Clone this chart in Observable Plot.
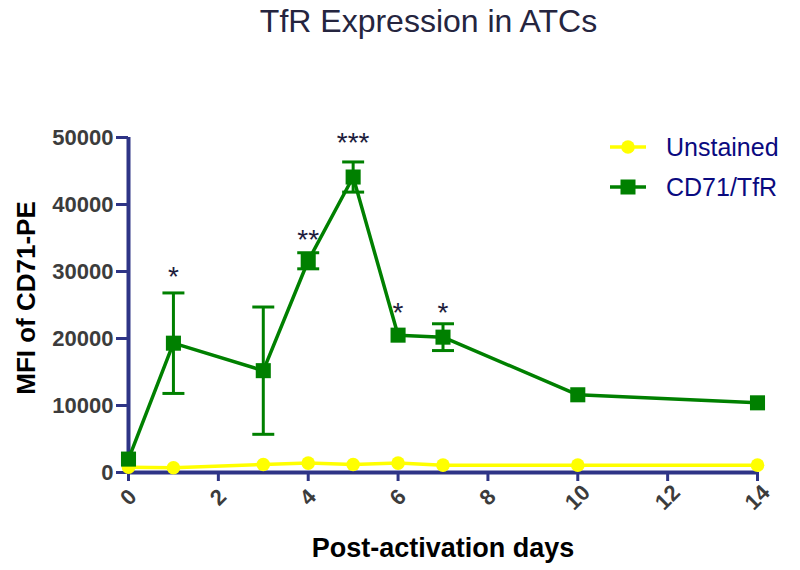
<!DOCTYPE html>
<html>
<head>
<meta charset="utf-8">
<script src="https://cdn.jsdelivr.net/npm/d3@7"></script>
<script src="https://cdn.jsdelivr.net/npm/@observablehq/plot@0.6"></script>
<style>
  body { margin: 0; background: #fff; }
  #wrap { position: relative; width: 800px; height: 570px; font-family: "Liberation Sans", Arial, sans-serif; }
  #title { position: absolute; left: 0; width: 857px; top: 3px; text-align: center; font-size: 32px; color: #25253f; }
  #legend { position: absolute; left: 606px; top: 127px; color: #0a0a80; font-size: 25px; }
  .row { display: flex; align-items: center; height: 40px; }
  .row svg { margin-right: 20px; }
</style>
</head>
<body>
<div id="wrap">
  <div id="title">TfR Expression in ATCs</div>
  <div id="legend"></div>
</div>
<script>
// ---- data ----
const days = [0, 1, 3, 4, 5, 6, 7, 10, 14];
const unstained = [800, 700, 1200, 1400, 1200, 1400, 1100, 1100, 1100];
const cd71 = [2000, 19300, 15200, 31600, 44100, 20500, 20200, 11600, 10400];
const cd71SD = [0, 7500, 9500, 1200, 2250, 0, 2000, 0, 0];
const starDays = [1, 4, 5, 6, 7];
const starLabels = ["*", "**", "***", "*", "*"];
const starY = [27900, 33400, 47800, 22400, 22400];
const xTicks = [0, 2, 4, 6, 8, 10, 12, 14];
const yTicks = [0, 10000, 20000, 30000, 40000, 50000];
const seriesNames = ["Unstained", "CD71/TfR"];

const navy = "#2e3486";
const green = "#008000";
const yellow = "#ffff00";
const tickGrey = "#3c3c3c";

const rowsU = days.map((d, i) => ({day: d, v: unstained[i]}));
const rowsG = days.map((d, i) => ({day: d, v: cd71[i], sd: cd71SD[i]}));
const errRows = rowsG.filter(d => d.sd > 0).map(d => ({day: d.day, lo: d.v - d.sd, hi: d.v + d.sd}));
const stars = starDays.map((d, i) => ({day: d, y: starY[i], t: starLabels[i]}));

const hline = {
  draw(ctx, size) {
    const w = Math.sqrt(size);
    ctx.moveTo(-w, 0); ctx.lineTo(w, 0);
  }
};

const chart = Plot.plot({
  width: 800,
  height: 570,
  marginLeft: 128,
  marginRight: 43,
  marginTop: 137,
  marginBottom: 98,
  style: {fontFamily: '"Liberation Sans", Arial, sans-serif', background: "transparent", overflow: "visible"},
  x: {domain: [0, 14], label: null},
  y: {domain: [0, 50000], label: null},
  marks: [
    Plot.axisY({ticks: yTicks, tickSize: 12, stroke: navy, strokeWidth: 3, tickFormat: () => "", label: null}),
    Plot.text(yTicks, {x: 0, y: d => d, dx: -15, text: d => String(d), textAnchor: "end",
      fontSize: 22, fontWeight: "bold", fill: tickGrey}),
    Plot.axisX({ticks: xTicks, tickSize: 9, stroke: navy, strokeWidth: 3, tickFormat: () => "", label: null}),
    Plot.text(xTicks, {x: d => d, y: 0, dy: 25, rotate: -45, text: d => String(d),
      fontSize: 22, fontWeight: "bold", fill: tickGrey, textAnchor: "middle"}),
    Plot.ruleX([0], {stroke: navy, strokeWidth: 4}),
    Plot.ruleY([0], {stroke: navy, strokeWidth: 4}),
    Plot.text(["MFI of CD71-PE"], {frameAnchor: "left", dx: -102, dy: -7, rotate: -90, text: d => d,
      textAnchor: "middle", fontSize: 26, fontWeight: "bold", fill: "#000"}),
    Plot.text(["Post-activation days"], {frameAnchor: "bottom", dy: 84, text: d => d,
      fontSize: 27, fontWeight: "bold", fill: "#000", lineAnchor: "bottom"}),
    // error bars
    Plot.ruleX(errRows, {x: "day", y1: "lo", y2: "hi", stroke: green, strokeWidth: 3}),
    Plot.dot(errRows, {x: "day", y: "lo", symbol: hline, r: 6.2, stroke: green, strokeWidth: 3}),
    Plot.dot(errRows, {x: "day", y: "hi", symbol: hline, r: 6.2, stroke: green, strokeWidth: 3}),
    // unstained
    Plot.line(rowsU, {x: "day", y: "v", stroke: yellow, strokeWidth: 3.5}),
    Plot.dot(rowsU, {x: "day", y: "v", r: 6.8, fill: yellow, stroke: "none"}),
    // cd71
    Plot.line(rowsG, {x: "day", y: "v", stroke: green, strokeWidth: 3.5}),
    Plot.dot(rowsG, {x: "day", y: "v", symbol: "square", r: 8.5, fill: green, stroke: "none"}),
    // significance stars
    Plot.text(stars, {x: "day", y: "y", text: "t", fontSize: 28, fill: "#1c1c3c", lineAnchor: "bottom"})
  ]
});
document.getElementById("wrap").prepend(chart);
chart.style.position = "absolute";
chart.style.left = "0";
chart.style.top = "0";

// legend
const legend = document.getElementById("legend");
seriesNames.forEach((name, i) => {
  const row = document.createElement("div");
  row.className = "row";
  const col = i === 0 ? yellow : green;
  const marker = i === 0
    ? `<circle cx="22" cy="10" r="6.8" fill="${col}"/>`
    : `<rect x="14.5" y="2.5" width="15" height="15" fill="${col}"/>`;
  row.innerHTML = `<svg width="40" height="20"><line x1="4" x2="40" y1="10" y2="10" stroke="${col}" stroke-width="3.5"/>${marker}</svg><span>${name}</span>`;
  legend.appendChild(row);
});
</script>
</body>
</html>
